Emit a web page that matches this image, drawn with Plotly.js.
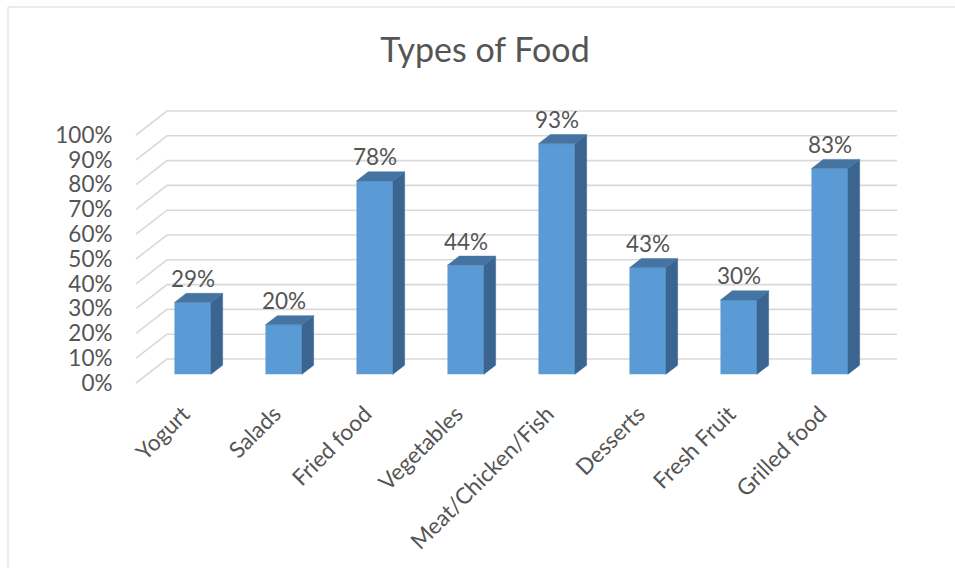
<!DOCTYPE html>
<html>
<head>
<meta charset="utf-8">
<script src="https://cdn.plot.ly/plotly-3.0.1.min.js"></script>
<style>
  html, body { margin: 0; padding: 0; background: #ffffff; }
  #chart { width: 955px; height: 568px; }
</style>
</head>
<body>
<div id="chart"></div>
<script>
// ---- data ----
const categories = ["Yogurt", "Salads", "Fried food", "Vegetables", "Meat/Chicken/Fish", "Desserts", "Fresh Fruit", "Grilled food"];
const values = [0.29, 0.20, 0.78, 0.44, 0.93, 0.43, 0.30, 0.83];
const yTickVals = [0, 0.1, 0.2, 0.3, 0.4, 0.5, 0.6, 0.7, 0.8, 0.9, 1.0];
const chartTitle = "Types of Food";

// ---- layout constants (pixels / 3D depth) ----
const W = 955, H = 568;
const M = { l: 126, r: 50, t: 106, b: 178 };
const PX_PER_CAT = 91, PX_PER_UNIT = 248;
const FRONT_LEFT_PX = 136, FRONT_ZERO_PX = 383;
const plotW = W - M.l - M.r, plotH = H - M.t - M.b;
const xMin = -0.5 - (FRONT_LEFT_PX - M.l) / PX_PER_CAT;
const xMax = xMin + plotW / PX_PER_CAT;
const yMin = -((H - M.b) - FRONT_ZERO_PX) / PX_PER_UNIT;
const yMax = yMin + plotH / PX_PER_UNIT;
const DX = 31 / PX_PER_CAT;   // full depth shift in x units
const DY = 24 / PX_PER_UNIT;  // full depth shift in y units
const GRID_RIGHT = -0.5 + (897 - FRONT_LEFT_PX) / PX_PER_CAT;
const BAR_FRONT = 0.36, BAR_DEPTH = 0.38, BAR_W = 0.4;

const FRONT_C = "#5B9BD5", SIDE_C = "#3A6590", TOP_C = "#4574A2";
const TXT = "#555555", FONT = "Lato, 'Liberation Sans', sans-serif";
const TICK_SIZE = 22.5;

const xs = categories.map((c, i) => i + BAR_FRONT * DX);
const base = BAR_FRONT * DY;
const ddx = BAR_DEPTH * DX, ddy = BAR_DEPTH * DY;

const traces = [];
traces.push({
  type: "bar", x: xs, y: values, base: values.map(() => base), width: BAR_W,
  marker: { color: FRONT_C, line: { width: 0 } }, hoverinfo: "skip", showlegend: false
});
values.forEach((v, i) => {
  const xl = xs[i] - BAR_W / 2, xr = xs[i] + BAR_W / 2;
  const top = base + v;
  traces.push({
    type: "scatter", mode: "lines", fill: "toself", fillcolor: SIDE_C,
    line: { color: SIDE_C, width: 0.5 }, hoverinfo: "skip", showlegend: false,
    x: [xr, xr + ddx, xr + ddx, xr, xr], y: [base, base + ddy, top + ddy, top, base]
  });
  traces.push({
    type: "scatter", mode: "lines", fill: "toself", fillcolor: TOP_C,
    line: { color: TOP_C, width: 0.5 }, hoverinfo: "skip", showlegend: false,
    x: [xl, xr, xr + ddx, xl + ddx, xl], y: [top, top, top + ddy, top + ddy, top]
  });
});

// gridlines on side + back wall (drawn below traces)
const shapes = yTickVals.map(t => ({
  type: "path", layer: "below", xref: "x", yref: "y",
  path: `M ${-0.5},${t} L ${-0.5 + DX},${t + DY} L ${GRID_RIGHT},${t + DY}`,
  line: { color: "#d9d9d9", width: 1.6 }
}));
// outer chart border
shapes.push({
  type: "rect", xref: "paper", yref: "paper", layer: "below",
  x0: (8 - M.l) / plotW, x1: (W + 10 - M.l) / plotW,
  y0: ((H - M.b) - (H + 10)) / plotH, y1: ((H - M.b) - 7) / plotH,
  line: { color: "#d9d9d9", width: 1 }, fillcolor: "rgba(0,0,0,0)"
});

const annotations = values.map((v, i) => ({
  x: xs[i], y: base + v, xref: "x", yref: "y", text: Math.round(v * 100) + "%",
  showarrow: false, yanchor: "middle", yshift: 24,
  font: { family: FONT, size: TICK_SIZE, color: TXT }
}));

const layout = {
  width: W, height: H, margin: M,
  paper_bgcolor: "#ffffff", plot_bgcolor: "rgba(0,0,0,0)",
  title: {
    text: chartTitle, x: 485 / W, xref: "container", xanchor: "center",
    y: 1 - 50 / H, yref: "container", yanchor: "middle",
    font: { family: FONT, size: 34, color: TXT }
  },
  xaxis: {
    range: [xMin, xMax], tickvals: categories.map((c, i) => i + 0.02), ticktext: categories,
    tickangle: -45, showgrid: false, zeroline: false, showline: false,
    ticks: "outside", ticklen: 1, tickcolor: "rgba(0,0,0,0)",
    tickfont: { family: FONT, size: TICK_SIZE, color: TXT }, fixedrange: true
  },
  yaxis: {
    range: [yMin, yMax], tickvals: yTickVals, tickformat: ".0%",
    showgrid: false, zeroline: false, showline: false,
    ticks: "outside", ticklen: 8, tickcolor: "rgba(0,0,0,0)",
    tickfont: { family: FONT, size: TICK_SIZE, color: TXT }, fixedrange: true
  },
  shapes: shapes, annotations: annotations, showlegend: false
};

Plotly.newPlot("chart", traces, layout, { displayModeBar: false, staticPlot: true });
</script>
</body>
</html>
